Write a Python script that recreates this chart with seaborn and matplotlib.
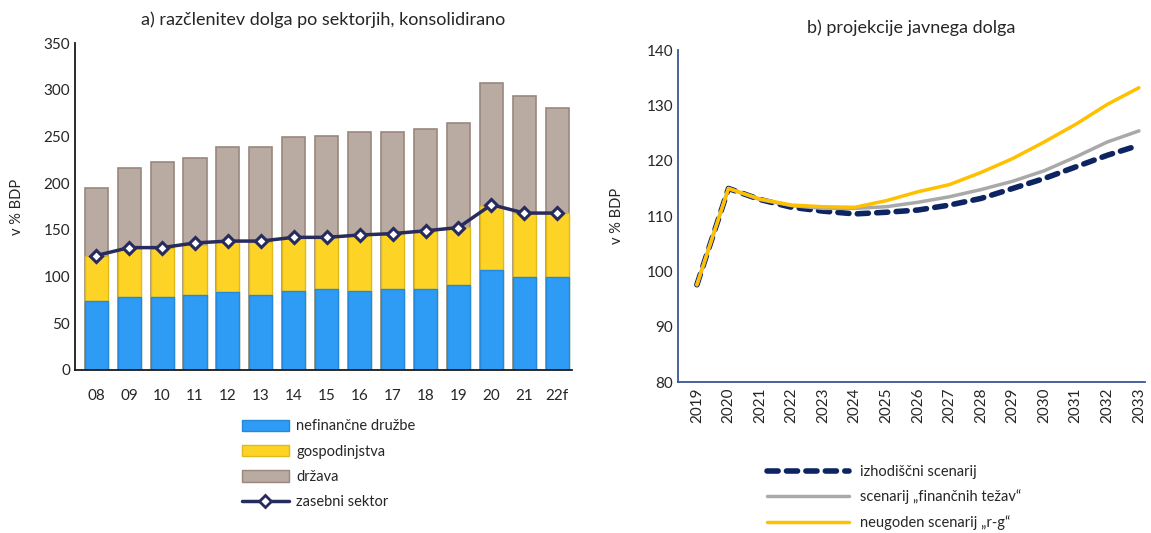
import numpy as np
import pandas as pd
import matplotlib
matplotlib.use("Agg")
import matplotlib.pyplot as plt
import seaborn as sns
from matplotlib.patches import Patch
from matplotlib.lines import Line2D

# a) debt by sector, % of GDP
leta_a = ["08", "09", "10", "11", "12", "13", "14", "15", "16", "17", "18", "19", "20", "21", "22f"]
nefinancne = [74, 78.5, 78.5, 80, 83, 80, 85, 87, 85, 87, 87, 91, 106.5, 100, 100]
gospodinjstva = [48, 52, 52, 54, 55, 57.5, 57, 55, 59.5, 59, 62, 62.5, 69, 68, 68]
drzava = [73, 86, 92, 93.5, 101, 101, 107, 109, 110.5, 109, 109, 110.5, 131.5, 125.5, 113]
zasebni = [122.5, 131, 131, 136, 138, 138, 142, 142, 144.5, 146, 149, 152.5, 177, 168, 168]

# b) public debt projections
leta_b = list(range(2019, 2034))
izhodiscni = [97.6, 115.0, 113.0, 111.6, 110.9, 110.4, 110.7, 111.1, 112.0, 113.2, 115.0, 116.8, 118.9, 121.0, 122.8]
financne_tezave = [97.6, 115.0, 113.0, 111.9, 111.4, 111.4, 111.7, 112.5, 113.5, 114.8, 116.3, 118.2, 120.7, 123.4, 125.4]
neugoden_rg = [97.6, 115.0, 113.1, 112.0, 111.7, 111.6, 112.8, 114.4, 115.7, 117.9, 120.4, 123.4, 126.6, 130.2, 133.2]

sns.set_style("white")
plt.rcParams["font.family"] = ["Lato", "DejaVu Sans"]
plt.rcParams["font.size"] = 11

modra = "#2E9BF5"
rumena = "#FDD426"
rjava = "#B9AAA2"
mornarska = "#282B5E"
txt = "#262626"

fig = plt.figure(figsize=(11.51, 5.33), dpi=100)
ax1 = fig.add_axes([0.065, 0.306, 0.432, 0.613])
ax2 = fig.add_axes([0.589, 0.283, 0.406, 0.623])

df_a = pd.DataFrame({
    "leto": leta_a,
    "nef": nefinancne,
    "gosp": gospodinjstva,
    "drz": drzava,
    "zas": zasebni,
})
df_a["skupaj_gosp"] = df_a["nef"] + df_a["gosp"]
df_a["skupaj"] = df_a["skupaj_gosp"] + df_a["drz"]

# stacked bars: draw cumulative totals on top of each other
sns.barplot(data=df_a, x="leto", y="skupaj", color=rjava, saturation=1, width=0.7,
            edgecolor="#9A877D", linewidth=1.2, ax=ax1)
sns.barplot(data=df_a, x="leto", y="skupaj_gosp", color=rumena, saturation=1, width=0.7,
            edgecolor="#E0B81A", linewidth=1, ax=ax1)
sns.barplot(data=df_a, x="leto", y="nef", color=modra, saturation=1, width=0.7,
            edgecolor="#2588DA", linewidth=1, ax=ax1)
sns.pointplot(data=df_a, x="leto", y="zas", color=mornarska, marker="D", markersize=6.5,
              markerfacecolor="white", markeredgecolor=mornarska, markeredgewidth=2.2,
              linewidth=2.5, ax=ax1)

ax1.set_ylim(0, 350)
ax1.set_yticks(range(0, 351, 50))
ax1.set_xlim(-0.65, 14.45)
ax1.set_xlabel("")
ax1.set_ylabel("v % BDP", fontsize=10.5, color=txt, labelpad=14)
ax1.set_title("a) razčlenitev dolga po sektorjih, konsolidirano", fontsize=13, color=txt, pad=13)
ax1.tick_params(axis="both", length=0, labelsize=11, colors=txt)
ax1.tick_params(axis="x", pad=14)
for s in ["top", "right"]:
    ax1.spines[s].set_visible(False)
for s in ["left", "bottom"]:
    ax1.spines[s].set_color("#1A1A1A")
    ax1.spines[s].set_linewidth(1.3)

roc_a = [
    Patch(facecolor=modra, edgecolor="#2588DA", label="nefinančne družbe"),
    Patch(facecolor=rumena, edgecolor="#E0B81A", label="gospodinjstva"),
    Patch(facecolor=rjava, edgecolor="#9A877D", label="država"),
    Line2D([], [], color=mornarska, linewidth=2.5, marker="D", markersize=6,
           markerfacecolor="white", markeredgecolor=mornarska, markeredgewidth=2,
           label="zasebni sektor"),
]
fig.legend(handles=roc_a, loc="upper left", bbox_to_anchor=(0.204, 0.227), frameon=False,
           fontsize=10.5, handlelength=3.2, handleheight=0.8, handletextpad=0.5,
           labelspacing=0.78, borderpad=0, labelcolor=txt)

# b) projections
sns.lineplot(x=leta_b, y=financne_tezave, color="#A9A9A9", linewidth=2.5, ax=ax2)
sns.lineplot(x=leta_b, y=neugoden_rg, color="#FFC000", linewidth=2.5, ax=ax2)
sns.lineplot(x=leta_b, y=izhodiscni, color="#0D2462", linewidth=4, ax=ax2,
             dashes=False)
ax2.lines[-1].set_dashes((2.0, 1.5))
ax2.lines[-1].set_dash_capstyle("round")
ax2.lines[-1].set_zorder(1.5)

ax2.set_ylim(80, 140)
ax2.set_yticks(range(80, 141, 10))
ax2.set_xlim(2018.4, 2033.2)
ax2.set_xticks(leta_b)
ax2.set_xticklabels([str(l) for l in leta_b], rotation=90)
ax2.set_ylabel("v % BDP", fontsize=10.5, color=txt, labelpad=16)
ax2.set_title("b) projekcije javnega dolga", fontsize=13, color=txt, pad=12)
ax2.tick_params(axis="both", length=0, labelsize=11, colors=txt)
for s in ["top", "right"]:
    ax2.spines[s].set_visible(False)
for s in ["left", "bottom"]:
    ax2.spines[s].set_color("#3A5694")
    ax2.spines[s].set_linewidth(1.3)

roc_b = [
    Line2D([], [], color="#0D2462", linewidth=4, dashes=(2.0, 1.5), dash_capstyle="round",
           label="izhodiščni scenarij"),
    Line2D([], [], color="#A9A9A9", linewidth=2.5, label="scenarij „finančnih težav“"),
    Line2D([], [], color="#FFC000", linewidth=2.5, label="neugoden scenarij „r-g“"),
]
fig.legend(handles=roc_b, loc="upper left", bbox_to_anchor=(0.660, 0.142), frameon=False,
           fontsize=10.5, handlelength=5.6, handletextpad=0.8,
           labelspacing=0.75, borderpad=0, labelcolor=txt)

fig.savefig("out.png", dpi=100)
